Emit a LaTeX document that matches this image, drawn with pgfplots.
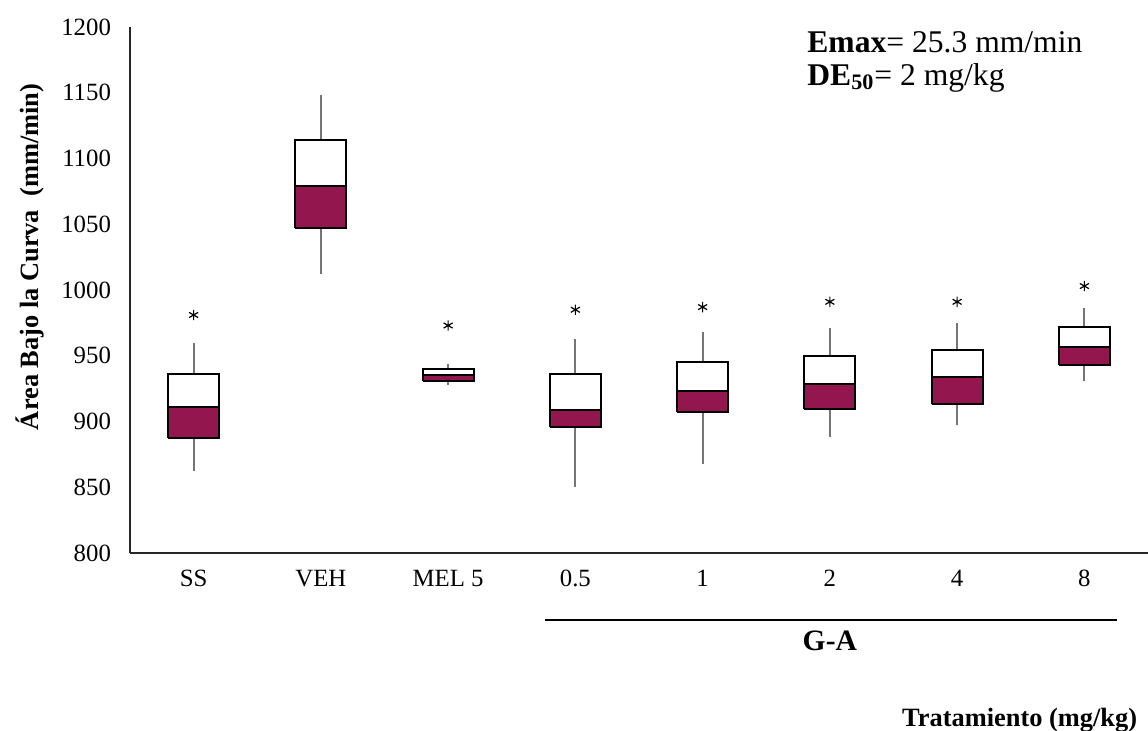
\documentclass[border=0pt]{standalone}
\usepackage{fontspec}
\setmainfont{Liberation Serif}
\usepackage{pgfplots}
\pgfplotsset{compat=1.18}
\usetikzlibrary{plotmarks}
\definecolor{maroon}{HTML}{94164F}
\definecolor{wgray}{HTML}{757575}
% pos, left, right, min, q1, median, q3, max
\newcommand{\bx}[8]{%
\addplot[draw=wgray, line width=1pt] coordinates {(#1,#4) (#1,#5)};
\addplot[draw=wgray, line width=1pt] coordinates {(#1,#7) (#1,#8)};
\addplot[draw=black, line width=1pt, fill=white, line join=miter] coordinates {(#2,#6) (#3,#6) (#3,#7) (#2,#7) (#2,#6)};
\addplot[draw=black, line width=1pt, fill=maroon, line join=miter] coordinates {(#2,#5) (#3,#5) (#3,#6) (#2,#6) (#2,#5)};
}
\begin{document}
\begin{tikzpicture}
\path[use as bounding box] (-65pt,-89pt) rectangle (509pt,276.5pt);
\begin{axis}[
  at={(0,0)}, anchor=south west,
  scale only axis, width=509pt, height=263pt,
  xmin=-0.5, xmax=7.5, ymin=800, ymax=1200,
  axis lines*=left,
  axis line style={black!85, line width=0.9pt},
  tick style={draw=none},
  xtick={0,1,2,3,4,5,6,7},
  xticklabels={SS,VEH,MEL 5,0.5,1,2,4,8},
  ytick={800,850,...,1200},
  /pgf/number format/assume math mode=true,
  /pgf/number format/1000 sep={},
  tick label style={font=\fontsize{12.4}{14}\selectfont},
  yticklabel style={xshift=-6pt},
  xticklabel style={yshift=-5pt},
  ylabel={\textbf{Área Bajo la Curva~ (mm/min)}},
  ylabel style={at={(axis description cs:-0.098,0.563)}, anchor=center, font=\fontsize{13.2}{15}\selectfont},
  clip=false,
]
\bx{0}{-0.2}{0.2}{862}{887.5}{911}{936}{960}
\bx{1}{0.8}{1.2}{1012}{1047}{1079}{1114}{1148}
\bx{2}{1.8}{2.2}{928}{931}{935.5}{940}{944}
\bx{3}{2.8}{3.2}{850}{896}{909}{936}{963}
\bx{4}{3.8}{4.2}{868}{907}{923}{945.5}{968}
\bx{5}{4.8}{5.2}{888}{909.5}{928.5}{950}{971}
\bx{6}{5.8}{6.2}{897}{913}{934}{954.6}{975}
\bx{7}{6.8}{7.2}{931}{943}{957}{972}{986.5}
\addplot[only marks, mark=asterisk, mark size=2.6pt, mark options={black, line width=0.6pt}] coordinates {(0,981) (2,973) (3,985) (4,987) (5,991) (6,991) (7,1003)};
\draw[black, line width=0.8pt] (axis cs:2.76,749) -- (axis cs:7.26,749);
\node[font=\bfseries\fontsize{14.8}{17}\selectfont] at (axis cs:5,733.5) {G-A};
\node[anchor=east, font=\bfseries\fontsize{13.2}{15}\selectfont] at (axis cs:7.47,673) {Tratamiento (mg/kg)};
\node[anchor=west, font=\fontsize{15.8}{18}\selectfont, inner sep=0pt] at (axis cs:4.82,1188.5) {\textbf{Emax}= 25.3 mm/min};
\node[anchor=west, font=\fontsize{15.8}{18}\selectfont, inner sep=0pt] at (axis cs:4.82,1161.5) {\textbf{DE\textsubscript{50}}= 2 mg/kg};
\end{axis}
\end{tikzpicture}
\end{document}
